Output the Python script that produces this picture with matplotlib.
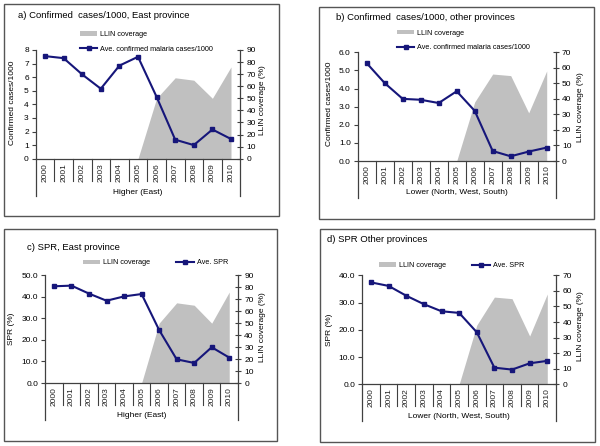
import matplotlib
matplotlib.use("Agg")
import matplotlib.pyplot as plt
from matplotlib.patches import Rectangle, Patch
from matplotlib.lines import Line2D
from matplotlib.transforms import blended_transform_factory

plt.rcParams['font.family'] = ['Liberation Sans', 'DejaVu Sans']

# data
years = ['2000', '2001', '2002', '2003', '2004', '2005',
         '2006', '2007', '2008', '2009', '2010']
cases_east = [7.55, 7.4, 6.2, 5.15, 6.85, 7.5, 4.55, 1.4, 1.0, 2.15, 1.45]
cases_other = [5.4, 4.3, 3.43, 3.38, 3.2, 3.85, 2.77, 0.55, 0.26, 0.52, 0.74]
spr_east = [44.9, 45.2, 41.5, 38.2, 40.2, 41.3, 24.6, 11.0, 9.3, 16.6, 11.8]
spr_other = [37.4, 36.1, 32.5, 29.4, 26.8, 26.2, 19.1, 6.1, 5.4, 7.7, 8.6]
llin_east = [0, 0, 0, 0, 0, 0, 50, 67, 65, 50, 76]
llin_other = [0, 0, 0, 0, 0, 0, 38, 56, 55, 31, 58]

W, H = 600, 446
NAVY = '#16167a'
GREY = '#c0c0c0'
AXC = '#404040'

fig = plt.figure(figsize=(W / 100, H / 100), dpi=100)


def fx(x):
    return x / W


def fy(y):
    return 1 - y / H


def panel(box, axbox, title, title_xy, vals, llin, ylim, yfmt, rmax,
          ylabel, ylab_xy, rlab_xy, xlabel, xlab_y, line_label,
          leg_xy, leg_ncol):
    # outer frame of the panel
    x0, y0, x1, y1 = box
    fig.add_artist(Rectangle((fx(x0), fy(y1)), fx(x1 - x0), (y1 - y0) / H,
                             transform=fig.transFigure, fill=False,
                             edgecolor='#555555', lw=1.0))
    l, t, r, b = axbox
    ax = fig.add_axes([fx(l), fy(b), fx(r - l), (b - t) / H])
    ax2 = ax.twinx()
    ax.set_zorder(ax2.get_zorder() + 1)
    ax.patch.set_visible(False)

    x = list(range(len(years)))
    ax2.fill_between(x[5:], 0, llin[5:], color=GREY, lw=0)
    ax.plot(x, vals, color=NAVY, lw=1.5, marker='s', ms=3)

    ax.set_xlim(-0.5, len(years) - 0.5)
    ax.set_ylim(0, ylim[1])
    ax.set_yticks([i * ylim[2] for i in range(int(ylim[1] / ylim[2]) + 1)])
    ax.set_yticklabels([yfmt.format(v) for v in ax.get_yticks()])
    ax2.set_ylim(0, rmax)
    ax2.set_yticks(range(0, rmax + 1, 10))

    ax.set_xticks(x)
    ax.set_xticklabels(years, rotation=90)
    ax.tick_params(axis='x', length=0, pad=3, labelsize=6, colors='#222222')
    ax.tick_params(axis='y', direction='out', length=3, width=0.8,
                   labelsize=6, pad=2, color=AXC)
    ax2.tick_params(axis='y', direction='inout', length=5, width=0.8,
                    labelsize=6, pad=2, color=AXC)

    for a in (ax, ax2):
        for s in a.spines.values():
            s.set_visible(False)
            s.set_color(AXC)
            s.set_linewidth(0.9)
    ax.spines['left'].set_visible(True)
    ax.spines['bottom'].set_visible(True)
    ax2.spines['right'].set_visible(True)

    # category separators and the outer lines of the grouped axis
    tr = blended_transform_factory(ax.transData, ax.transAxes)
    hpx = b - t
    for k in range(1, len(years)):
        ax.plot([k - 0.5, k - 0.5], [0, -22 / hpx], transform=tr,
                color=AXC, lw=0.8, clip_on=False)
    for xe in (-0.5, len(years) - 0.5):
        ax.plot([xe, xe], [0, -37 / hpx], transform=tr,
                color=AXC, lw=0.9, clip_on=False)

    fig.text(fx(title_xy[0]), fy(title_xy[1]), title, ha='left',
             va='center', fontsize=6.8)
    fig.text(fx(ylab_xy[0]), fy(ylab_xy[1]), ylabel, rotation=90,
             ha='center', va='center', fontsize=6)
    fig.text(fx(rlab_xy[0]), fy(rlab_xy[1]), 'LLIN coverage (%)',
             rotation=90, ha='center', va='center', fontsize=6)
    fig.text(fx((l + r) / 2), fy(xlab_y), xlabel, ha='center',
             va='center', fontsize=6)

    handles = [Patch(facecolor=GREY, edgecolor='none'),
               Line2D([], [], color=NAVY, lw=1.5, marker='s', ms=2.5)]
    fig.legend(handles, ['LLIN coverage', line_label], loc='center left',
               bbox_to_anchor=(fx(leg_xy[0]), fy(leg_xy[1])),
               ncol=leg_ncol, frameon=False, fontsize=5.2, borderpad=0,
               borderaxespad=0, handlelength=2.4, handleheight=0.6,
               handletextpad=0.4, labelspacing=1.05, columnspacing=3.6)


panel((4, 4, 279, 216), (35.7, 50, 240.3, 158.7),
      'a) Confirmed  cases/1000, East province', (18, 16),
      cases_east, llin_east, (0, 8, 1), '{:.0f}', 90,
      'Confirmed cases/1000', (13, 103), (263, 100),
      'Higher (East)', 192, 'Ave. confirmed malaria cases/1000',
      (80, 42), 1)

panel((319, 7, 594, 219), (357.7, 52.3, 555.7, 161),
      'b) Confirmed  cases/1000, other provinces', (335.7, 17.3),
      cases_other, llin_other, (0, 6, 1), '{:.1f}', 70,
      'Confirmed cases/1000', (329.3, 104), (581, 107),
      'Lower (North, West, South)', 192.7,
      'Ave. confirmed malaria cases/1000', (397, 40.5), 1)

panel((4, 229, 277, 441), (45.2, 275.3, 238, 383),
      'c) SPR, East province', (27, 247),
      spr_east, llin_east, (0, 50, 10), '{:.1f}', 90,
      'SPR (%)', (11.7, 329), (262, 327),
      'Higher (East)', 415.5, 'Ave. SPR', (83, 263), 2)

panel((320, 229, 595, 442), (362.2, 275.3, 556.1, 384.3),
      'd) SPR Other provinces', (327, 240),
      spr_other, llin_other, (0, 40, 10), '{:.1f}', 70,
      'SPR (%)', (329.3, 330), (581, 326),
      'Lower (North, West, South)', 416.5, 'Ave. SPR', (379, 265.7), 2)

fig.savefig('out.png', dpi=100)
